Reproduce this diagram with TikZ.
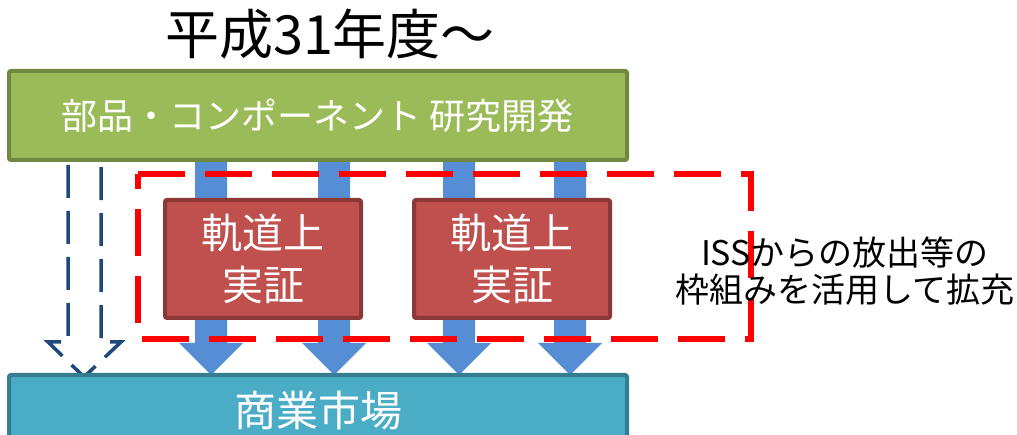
\documentclass[tikz,border=0pt]{standalone}
\usepackage{fontspec}
\setmainfont{Noto Sans CJK JP}
\usetikzlibrary{calc}
\definecolor{gfill}{HTML}{9BBB59}
\definecolor{gline}{HTML}{71893F}
\definecolor{rfill}{HTML}{C0504D}
\definecolor{rline}{HTML}{8C3836}
\definecolor{tfill}{HTML}{4BACC6}
\definecolor{tline}{HTML}{357D91}
\definecolor{barrow}{HTML}{558ED5}
\definecolor{darrow}{HTML}{1F497D}
\tikzset{
  greenbox/.style={draw=gline, fill=gfill, line width=4pt, rounded corners=2pt, minimum width=618pt, minimum height=89pt, inner sep=0pt, text=white, font=\fontsize{36pt}{40pt}\selectfont},
  redbox/.style={draw=rline, fill=rfill, line width=4pt, rounded corners=2pt, minimum width=196pt, minimum height=118pt, inner sep=0pt, text=white, align=center, font=\fontsize{41pt}{52pt}\selectfont},
  tealbox/.style={draw=tline, fill=tfill, line width=4pt, rounded corners=2pt, minimum width=618pt, minimum height=72pt, inner sep=0pt, text=white, font=\fontsize{42pt}{46pt}\selectfont},
  blockarrow/.style={fill=barrow},
  dasharrow/.style={draw=darrow, line width=3.5pt, dash pattern=on 33pt off 13pt, line join=miter},
  dashframe/.style={draw=red, line width=5.5pt, dash pattern=on 47pt off 20pt},
  plaintext/.style={inner sep=0pt, align=center},
}
\begin{document}
\begin{tikzpicture}[x=1pt,y=-1pt]
\useasboundingbox (0,0) rectangle (1017,435);
\begin{scope}
\clip (0,0) rectangle (1017,435);
% block arrows (drawn first, under boxes)
\foreach \xx [count=\i] in {211,334,459,570} {
  \coordinate (s\i) at (\xx,160);
  \coordinate (t\i) at (\xx,375);
  \fill[blockarrow] ($(s\i)+(-16,0)$) -- ($(t\i)+(-16,-32)$) -- ($(t\i)+(-32,-32)$) -- (t\i)
     -- ($(t\i)+(32,-32)$) -- ($(t\i)+(16,-32)$) -- ($(s\i)+(16,0)$) -- cycle;
}
% dashed outline arrow on the left
\coordinate (da) at (68,119);
\coordinate (dtip) at (84,377);
\draw[dasharrow] (da) -- (68,342) -- (48,342) -- (dtip) -- (121,342) -- (101,342) -- (101,119);
% boxes
\node[greenbox] (parts) at (318,115.5) {部品・コンポーネント 研究開発};
\node[tealbox] (market) at (318,411) {商業市場};
\node[redbox] (demo1) at (263,259) {軌道上\\実証};
\node[redbox] (demo2) at (512,259) {軌道上\\実証};
\end{scope}
% red dashed frame
\draw[dashframe] (138,174) -- (751,174) -- (751,339) -- (138,339) -- cycle;
% texts
\node[plaintext, font=\fontsize{54pt}{58pt}\selectfont] (title) at (330,34) {平成31年度～};
\node[plaintext, font=\fontsize{34pt}{37pt}\selectfont] (note) at (845,271) {ISSからの放出等の\\枠組みを活用して拡充};
\end{tikzpicture}
\end{document}
